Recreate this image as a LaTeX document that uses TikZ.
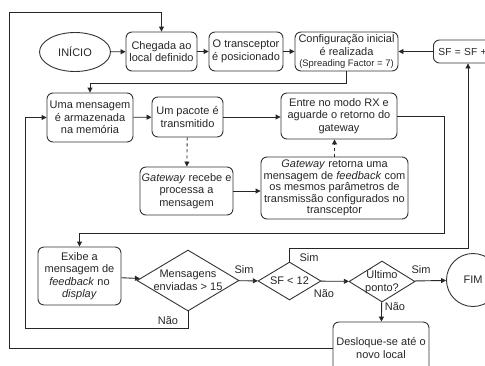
\documentclass[tikz,border=0pt]{standalone}
\usepackage{fontspec}
\setmainfont{Liberation Sans}
\usetikzlibrary{shapes.geometric,arrows.meta}
\begin{document}
\begin{tikzpicture}[x=1pt,y=-1pt,
  every node/.style={font=\fontsize{11}{12.5}\selectfont, text=black!85},
  box/.style={draw=black!80, rounded corners=6pt, align=center, inner sep=1pt, line width=0.9pt},
  ell/.style={draw=black!80, ellipse, line width=0.9pt, inner sep=0pt},
  dia/.style={draw=black!80, diamond, line width=0.9pt, inner sep=0pt},
  arr/.style={-{Triangle[length=5pt,width=5pt]}, draw=black!85, line width=0.9pt},
  ln/.style={draw=black!85, line width=0.9pt},
  lbl/.style={font=\fontsize{11}{12}\selectfont, inner sep=0pt}]
\useasboundingbox (0,0) rectangle (485,365);

% nodes
\node[ell, minimum width=71pt, minimum height=39pt] (inicio) at (75,52) {INÍCIO};
\node[box, minimum width=71pt, minimum height=39pt] (chegada) at (161.5,51.5) {Chegada ao\\local definido};
\node[box, minimum width=74pt, minimum height=39pt] (transc) at (246,51.5) {O transceptor\\é posicionado};
\node[box, minimum width=103pt, minimum height=39pt] (config) at (346.5,51.5) {Configuração inicial\\é realizada\\[-1pt]{\fontsize{9.4}{10}\selectfont (Spreading Factor = 7)}};
\node[box, minimum width=62pt, minimum height=23pt, anchor=west, align=left, text width=52pt, inner xsep=5pt, font=\fontsize{10.2}{12}\selectfont] (sf) at (433,51.5) {SF = SF +};

\node[box, minimum width=86pt, minimum height=49pt] (uma) at (90,117.5) {Uma mensagem\\é armazenada\\na memória};
\node[box, minimum width=71pt, minimum height=40pt] (pacote) at (187.5,117) {Um pacote é\\transmitido};
\node[box, minimum width=116pt, minimum height=46pt] (entre) at (339,116) {Entre no modo RX e\\aguarde o retorno do\\gateway};
\node[box, minimum width=93pt, minimum height=48pt] (grecebe) at (186.5,191) {\textit{Gateway} recebe e\\processa a\\mensagem};
\node[box, minimum width=147pt, minimum height=62pt, font=\fontsize{11}{11.5}\selectfont] (gretorna) at (334.5,188) {\textit{Gateway} retorna uma\\mensagem de \textit{feedback} com\\os mesmos parâmetros de\\transmissão configurados no\\transceptor};

\node[box, minimum width=83pt, minimum height=58pt] (exibe) at (79.5,276) {Exibe a\\mensagem de\\\textit{feedback} no\\\textit{display}};
\node[dia, minimum width=102pt, minimum height=61pt, label={[align=center]center:{Mensagens\\enviadas > 15}}] (d15) at (188,280.5) {};
\node[dia, minimum width=63pt, minimum height=38pt, label={center:{SF < 12}}] (d12) at (289.5,281) {};
\node[dia, minimum width=66pt, minimum height=41pt, label={[align=center]center:{Último\\ponto?}}] (dult) at (382,281.5) {};
\node[ell, minimum width=53pt, minimum height=53pt] (fim) at (473,280) {FIM};
\node[box, minimum width=96pt, minimum height=52pt] (desl) at (381,348) {Desloque-se até o\\novo local};

% helper coordinates
\coordinate (c1) at (444,233);
\coordinate (c2) at (468,248);
\coordinate (c3) at (25,328);
\coordinate (c4) at (9.5,12);

% connectors
\draw[arr] (inicio) -- (chegada);
\draw[arr] (chegada) -- (transc);
\draw[arr] (transc) -- (config);
\draw[arr] (sf) -- (config);
\draw[arr] (config.south) -- (config.south |- 0,83) -| (uma.north);
\draw[arr] (uma) -- (pacote);
\draw[arr] (pacote.east) -- (entre.west |- pacote.east);
\draw[arr, dashed] (pacote) -- (grecebe);
\draw[arr] (grecebe.east) -- (gretorna.west |- grecebe.east);
\draw[arr, dashed] (gretorna.north) -- (entre.south -| gretorna.north);
\draw[arr] (entre.east) -| (c1) -| (exibe.north);
\draw[arr] (exibe) -- (d15);
\draw[arr] (d15) -- (d12);
\draw[arr] (d12.north) |- (c2) -- (c2 |- sf.south);
\draw[arr] (d12) -- (dult);
\draw[arr] (dult) -- (fim);
\draw[arr] (dult) -- (desl);
\draw[arr] (d15.south) |- (c3) |- (uma.west);
\draw[arr] (desl.west) -| (c4) -| (chegada.north);

% labels
\node[lbl] (l1) at (244,270) {Sim};
\node[lbl] (l2) at (309,258) {Sim};
\node[lbl] (l3) at (324,294) {Não};
\node[lbl] (l4) at (421,270) {Sim};
\node[lbl] (l5) at (395,307) {Não};
\node[lbl] (l6) at (168,321) {Não};
\end{tikzpicture}
\end{document}
